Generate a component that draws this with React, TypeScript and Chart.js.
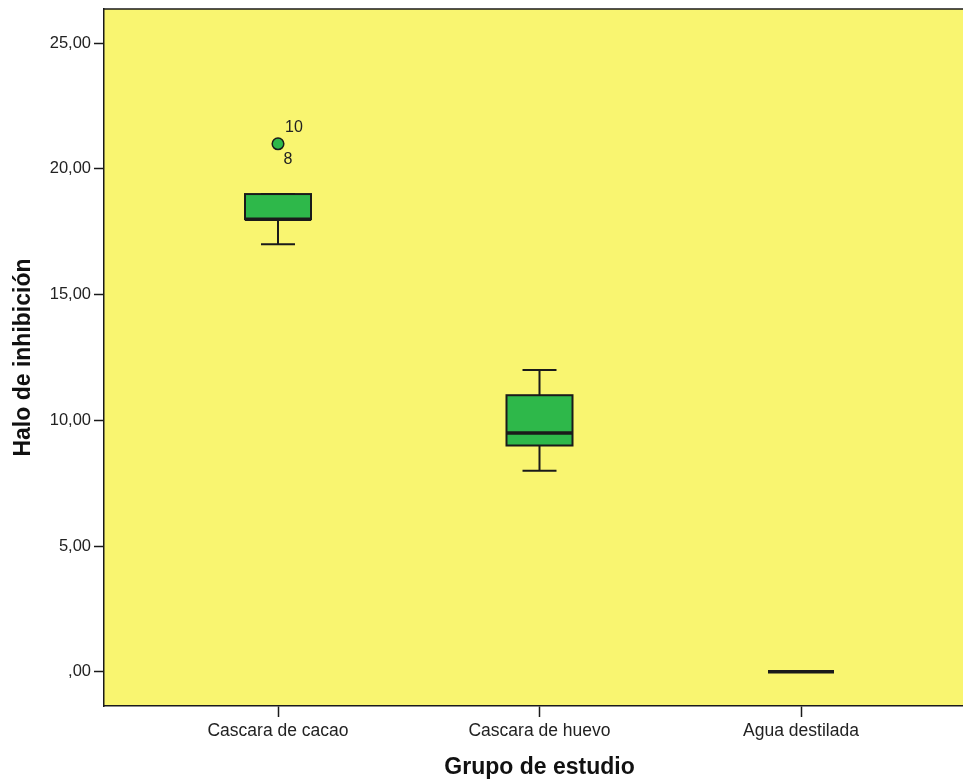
import React, { useEffect, useRef } from "react";
import { Chart, registerables } from "chart.js";

Chart.register(...registerables);

const categories = ["Cascara de cacao", "Cascara de huevo", "Agua destilada"];
const whiskerMin = [17, 8, 0];
const q1 = [18, 9, 0];
const median = [18, 9.5, 0];
const q3 = [19, 11, 0];
const whiskerMax = [19, 12, 0];
const outlierValues = [[21], [], []];
const outlierCaseLabels = [["10", "8"], [], []];
const yTicks = [0, 5, 10, 15, 20, 25];
const yTickLabels = [",00", "5,00", "10,00", "15,00", "20,00", "25,00"];
const xTitle = "Grupo de estudio";
const yTitle = "Halo de inhibición";

const BG = "#F9F570";
const GREEN = "#2EB84A";
const LINE = "#1a1a1a";
const TEXT = "#222222";
const TITLE = "#111111";
const FONT = "'Liberation Sans', Arial, sans-serif";
const BOX_HALF = 0.1262; // in category units
const CAP_HALF = 0.065;

const zeroPad = (s: any) => {
  s.paddingTop = 0;
  s.paddingBottom = 0;
  s.paddingLeft = 0;
  s.paddingRight = 0;
};

const boxPlugin = {
  id: "boxPlugin",
  beforeDraw(chart: any) {
    const { ctx, chartArea } = chart;
    ctx.save();
    ctx.fillStyle = BG;
    ctx.fillRect(chartArea.left, chartArea.top, chartArea.right - chartArea.left, chartArea.bottom - chartArea.top);
    ctx.restore();
  },
  beforeDatasetsDraw(chart: any) {
    const { ctx } = chart;
    const xs = chart.scales.x;
    const ys = chart.scales.y;
    ctx.save();
    ctx.strokeStyle = LINE;
    ctx.lineCap = "butt";
    categories.forEach((_, i) => {
      const xv = i + 1;
      const xl = xs.getPixelForValue(xv - BOX_HALF);
      const xr = xs.getPixelForValue(xv + BOX_HALF);
      const xc = xs.getPixelForValue(xv);
      const cl = xs.getPixelForValue(xv - CAP_HALF);
      const cr = xs.getPixelForValue(xv + CAP_HALF);
      const yMin = ys.getPixelForValue(whiskerMin[i]);
      const yQ1 = ys.getPixelForValue(q1[i]);
      const yMed = ys.getPixelForValue(median[i]);
      const yQ3 = ys.getPixelForValue(q3[i]);
      const yMax = ys.getPixelForValue(whiskerMax[i]);
      ctx.lineWidth = 2;
      ctx.beginPath();
      ctx.moveTo(xc, yQ1);
      ctx.lineTo(xc, yMin);
      ctx.moveTo(cl, yMin);
      ctx.lineTo(cr, yMin);
      ctx.moveTo(xc, yQ3);
      ctx.lineTo(xc, yMax);
      ctx.moveTo(cl, yMax);
      ctx.lineTo(cr, yMax);
      ctx.stroke();
      ctx.fillStyle = GREEN;
      ctx.fillRect(xl, yQ3, xr - xl, yQ1 - yQ3);
      ctx.strokeRect(xl, yQ3, xr - xl, yQ1 - yQ3);
      ctx.lineWidth = 3.5;
      ctx.beginPath();
      ctx.moveTo(xl, yMed);
      ctx.lineTo(xr, yMed);
      ctx.stroke();
    });
    ctx.restore();
  },
  afterDatasetsDraw(chart: any) {
    const { ctx } = chart;
    const xs = chart.scales.x;
    const ys = chart.scales.y;
    ctx.save();
    ctx.fillStyle = TEXT;
    ctx.font = `16px ${FONT}`;
    ctx.textAlign = "center";
    ctx.textBaseline = "middle";
    outlierValues.forEach((vals, i) => {
      vals.forEach((v) => {
        const px = xs.getPixelForValue(i + 1);
        const py = ys.getPixelForValue(v);
        const labs = outlierCaseLabels[i];
        if (labs[0]) ctx.fillText(labs[0], px + 16, py - 16);
        if (labs[1]) ctx.fillText(labs[1], px + 10, py + 16);
      });
    });
    ctx.restore();
  },
  afterDraw(chart: any) {
    const { ctx, chartArea } = chart;
    const xs = chart.scales.x;
    ctx.save();
    ctx.strokeStyle = LINE;
    ctx.lineWidth = 1.5;
    ctx.beginPath();
    ctx.moveTo(chartArea.left, chartArea.top);
    ctx.lineTo(chartArea.right + 20, chartArea.top);
    ctx.stroke();
    const cx = (xs.getPixelForValue(1) + xs.getPixelForValue(categories.length)) / 2;
    ctx.fillStyle = TITLE;
    ctx.font = `bold 23px ${FONT}`;
    ctx.textAlign = "center";
    ctx.textBaseline = "middle";
    ctx.fillText(xTitle, cx, chart.height - 12);
    ctx.restore();
  },
};

export default function App() {
  const ref = useRef<HTMLCanvasElement>(null);
  useEffect(() => {
    if (!ref.current) return;
    const outlierPoints: { x: number; y: number }[] = [];
    outlierValues.forEach((vals, i) => vals.forEach((v) => outlierPoints.push({ x: i + 1, y: v })));
    const chart = new Chart(ref.current, {
      type: "scatter",
      data: {
        datasets: [
          {
            data: outlierPoints,
            pointRadius: 5.8,
            pointBackgroundColor: GREEN,
            pointBorderColor: LINE,
            pointBorderWidth: 1.5,
          },
        ],
      },
      options: {
        animation: false,
        responsive: false,
        layout: { autoPadding: false, padding: { top: 9, right: 0, left: 0, bottom: 0 } },
        plugins: { legend: { display: false }, tooltip: { enabled: false } },
        scales: {
          x: {
            type: "linear",
            min: 0.3346,
            max: 3.6195,
            afterBuildTicks: (s: any) => {
              s.ticks = categories.map((_, i) => ({ value: i + 1 }));
            },
            afterFit: (s: any) => {
              s.height = 74;
              zeroPad(s);
            },
            ticks: {
              autoSkip: false,
              maxRotation: 0,
              padding: 4,
              color: TEXT,
              font: { family: FONT, size: 17.5 },
              callback: (_v: any, idx: number) => categories[idx],
            },
            grid: { drawOnChartArea: false, drawTicks: true, tickLength: 11, tickColor: LINE, tickWidth: 1.5 },
            border: { display: true, color: LINE, width: 1.5 },
            title: { display: false },
          },
          y: {
            type: "linear",
            min: -1.36,
            max: 26.36,
            afterBuildTicks: (s: any) => {
              s.ticks = yTicks.map((v) => ({ value: v }));
            },
            afterFit: (s: any) => {
              s.width = 104;
              zeroPad(s);
            },
            ticks: {
              padding: 3,
              color: TEXT,
              font: { family: FONT, size: 16.5 },
              callback: (_v: any, idx: number) => yTickLabels[idx],
            },
            grid: { drawOnChartArea: false, drawTicks: true, tickLength: 10, tickColor: LINE, tickWidth: 1.5 },
            border: { display: true, color: LINE, width: 1.5 },
            title: {
              display: true,
              text: yTitle,
              color: TITLE,
              font: { family: FONT, size: 23, weight: "bold" },
              padding: { top: 10, bottom: 0 },
            },
          },
        },
      },
      plugins: [boxPlugin],
    } as any);
    return () => chart.destroy();
  }, []);
  return (
    <div style={{ position: "absolute", left: 0, top: 0, width: 963, height: 780, background: "#fff" }}>
      <canvas ref={ref} width={963} height={780} style={{ width: 963, height: 780, display: "block" }} />
    </div>
  );
}
